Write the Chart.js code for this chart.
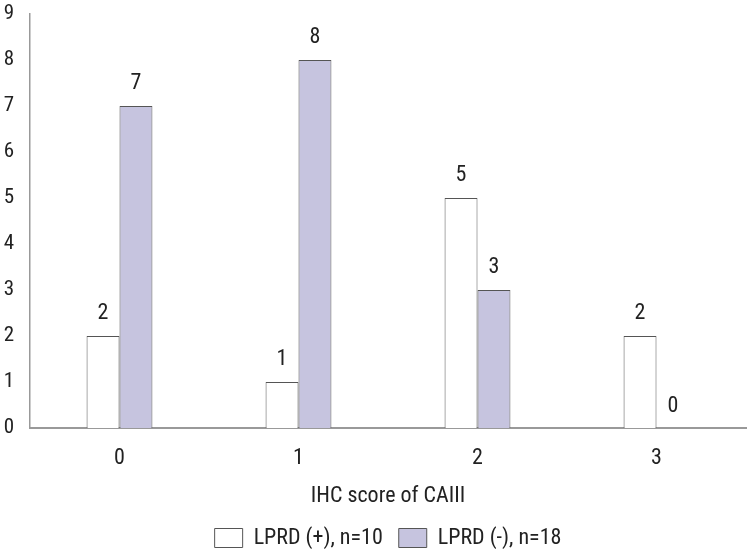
<!DOCTYPE html>
<html>
<head>
<meta charset="utf-8">
<script src="https://cdn.jsdelivr.net/npm/chart.js@4"></script>
<style>
  body { margin: 0; background: #fff; }
</style>
</head>
<body>
<canvas id="myChart" width="751" height="553"></canvas>
<script>
const categories = ["0", "1", "2", "3"];
const positiveValues = [2, 1, 5, 2];
const negativeValues = [7, 8, 3, 0];
const seriesNames = ["LPRD (+), n=10", "LPRD (-), n=18"];
const axisTitle = "IHC score of CAIII";

const fontFamily = "'Roboto Condensed', Roboto, sans-serif";
const ctx = document.getElementById("myChart");

// draw the value above each bar
const valueLabels = {
  id: "valueLabels",
  afterDatasetsDraw(chart) {
    const c = chart.ctx;
    c.save();
    c.font = "22px " + fontFamily;
    c.fillStyle = "#222";
    c.textAlign = "center";
    c.textBaseline = "middle";
    chart.data.datasets.forEach((ds, i) => {
      chart.getDatasetMeta(i).data.forEach((bar, idx) => {
        c.fillText(ds.data[idx], bar.x, bar.y - 22);
      });
    });
    c.restore();
  },
};

new Chart(ctx, {
  type: "bar",
  data: {
    labels: categories,
    datasets: [
      {
        label: seriesNames[0],
        data: positiveValues,
        backgroundColor: "#ffffff",
        borderColor: "#555555",
        borderWidth: 1,
      },
      {
        label: seriesNames[1],
        data: negativeValues,
        backgroundColor: "#c6c4df",
        borderColor: "#555555",
        borderWidth: 1,
      },
    ],
  },
  options: {
    responsive: false,
    animation: false,
    categoryPercentage: 0.368,
    barPercentage: 1,
    layout: { padding: { top: 0, right: 5, left: 0, bottom: -6 } },
    plugins: {
      tooltip: { enabled: false },
      legend: {
        position: "bottom",
        fullSize: false,
        labels: {
          boxWidth: 28,
          boxHeight: 19,
          padding: 16,
          color: "#222",
          font: { family: fontFamily, size: 22 },
        },
      },
    },
    scales: {
      x: {
        grid: { display: false },
        border: { color: "#999", width: 2 },
        ticks: { color: "#222", padding: 9, font: { family: fontFamily, size: 22 } },
        title: {
          display: true,
          text: axisTitle,
          color: "#222",
          padding: { top: 0, bottom: 1 },
          font: { family: fontFamily, size: 22 },
        },
        afterFit: (scale) => { scale.height = 83; },
      },
      y: {
        min: 0,
        max: 9,
        grid: { display: false },
        border: { color: "#999", width: 1.5 },
        ticks: {
          stepSize: 1,
          color: "#222",
          padding: 8,
          font: { family: fontFamily, size: 21, lineHeight: 0.57 },
        },
        afterFit: (scale) => { scale.width = 30; },
      },
    },
  },
  plugins: [valueLabels],
});
</script>
</body>
</html>
